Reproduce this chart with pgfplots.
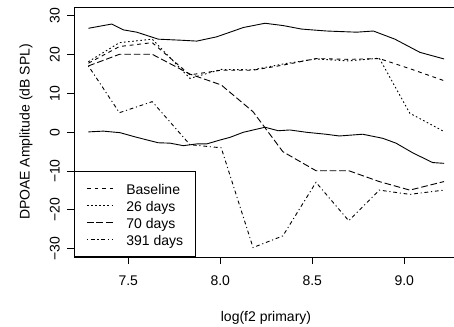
\documentclass[border=0pt]{standalone}
\usepackage{fontspec}
\setmainfont{Liberation Sans}
\usepackage{pgfplots}
\pgfplotsset{compat=1.18}
\pgfplotstableread{
x y
7.283 17.8
7.452 22.1
7.630 23.1
7.835 14.8
8.005 16.0
8.178 16.0
8.340 17.3
8.520 19.0
8.698 18.8
8.864 19.0
9.030 16.4
9.216 13.3
}\tabBase
\pgfplotstableread{
x y
7.283 18.2
7.452 23.1
7.630 24.0
7.835 13.9
8.005 16.2
8.178 16.1
8.340 17.6
8.520 18.9
8.698 18.4
8.864 19.1
9.030 4.9
9.216 0.2
}\tabA
\pgfplotstableread{
x y
7.283 17.1
7.452 20.1
7.630 20.1
7.835 15.0
8.005 12.2
8.178 5.3
8.340 -5.0
8.520 -9.9
8.698 -9.9
8.864 -12.7
9.030 -14.9
9.216 -12.7
}\tabB
\pgfplotstableread{
x y
7.283 17.1
7.452 5.05
7.630 7.9
7.835 -3.2
8.005 -4.0
8.178 -29.7
8.340 -26.7
8.520 -12.9
8.698 -22.8
8.864 -14.9
9.030 -16.0
9.216 -14.9
}\tabC
\pgfplotstableread{
x y
7.283 26.8
7.410 27.9
7.473 26.4
7.546 25.8
7.663 24.0
7.799 23.7
7.872 23.5
7.980 24.6
8.053 25.8
8.125 27.0
8.243 28.1
8.342 27.5
8.442 26.6
8.578 26.1
8.741 25.8
8.832 26.1
8.949 24.0
9.085 20.6
9.216 18.9
}\tabUp
\pgfplotstableread{
x y
7.283 0.1
7.364 0.3
7.455 -0.1
7.546 -1.3
7.663 -2.7
7.727 -2.8
7.799 -3.45
7.872 -3.0
7.926 -3.0
7.998 -2.0
8.053 -1.3
8.125 0.0
8.243 1.3
8.315 0.4
8.378 0.6
8.469 0.0
8.574 -0.5
8.647 -0.95
8.774 -0.5
8.883 -1.55
8.955 -2.8
9.046 -5.3
9.154 -7.8
9.216 -8.0
}\tabLo
\begin{document}
\fontsize{14}{17}\selectfont
\begin{tikzpicture}
\begin{axis}[
  at={(74pt,69pt)}, anchor=south west,
  scale only axis, width=384pt, height=250pt,
  xmin=7.2049, xmax=9.2919, ymin=-32.14, ymax=32.29,
  axis line style={line width=0.9pt},
  xtick={7.5,8,8.5,9}, xticklabels={7.5,8.0,8.5,9.0},
  ytick={-30,-20,-10,0,10,20,30}, yticklabels={−30,−20,−10,0,10,20,30},
  tick align=outside, major tick length=7pt,
  tick style={black, line width=0.9pt},
  xtick pos=bottom, ytick pos=left,
  xticklabel style={anchor=base, yshift=-21pt},
  yticklabel style={xshift=-7.3pt, rotate=90, anchor=base},
  xlabel={log(f2 primary)},
  ylabel={DPOAE Amplitude (dB SPL)},
  xlabel style={at={(axis description cs:0.5,-0.242)}, anchor=center},
  ylabel style={at={(axis description cs:-0.125,0.5)}, anchor=center},
  legend style={at={(axis description cs:0,0)}, anchor=south west, draw=black,
    line width=0.9pt, fill=white, inner xsep=12pt, inner ysep=10.3pt,
    row sep=4pt, column sep=13pt,
    nodes={inner sep=0pt, text height=12pt, text depth=1pt}},
  legend cell align=left,
  legend image code/.code={\draw[#1] (0pt,0pt) -- (26pt,0pt);},
  every axis plot/.append style={black, line width=0.9pt},
]
\addplot[dash pattern=on 3.8pt off 3.8pt] table {\tabBase};
\addlegendentry{Baseline}
\addplot[dash pattern=on 1.6pt off 2.5pt] table {\tabA};
\addlegendentry{26 days}
\addplot[dash pattern=on 6.6pt off 2.9pt] table {\tabB};
\addlegendentry{70 days}
\addplot[dash pattern=on 1.1pt off 2.8pt on 3.8pt off 2.8pt] table {\tabC};
\addlegendentry{391 days}
\addplot[solid, forget plot] table {\tabUp};
\addplot[solid, forget plot] table {\tabLo};
\end{axis}
\pgfresetboundingbox
\useasboundingbox (0,0) rectangle (454pt,326pt);
\end{tikzpicture}
\end{document}
